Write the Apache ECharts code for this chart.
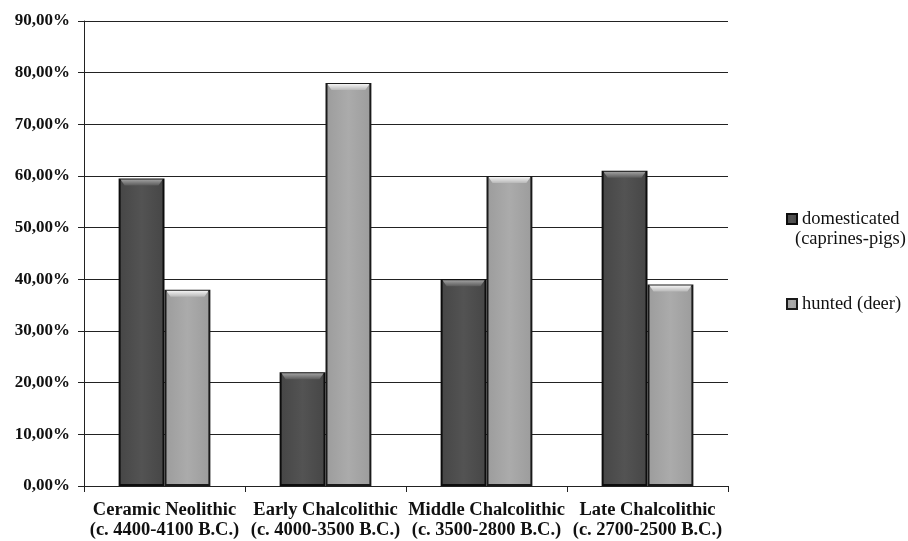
<!DOCTYPE html>
<html>
<head>
<meta charset="utf-8">
<script src="https://cdn.jsdelivr.net/npm/echarts@6/dist/echarts.min.js"></script>
<style>
  html, body { margin: 0; padding: 0; background: #ffffff; }
  #chart { width: 908px; height: 541px; }
</style>
</head>
<body>
<div id="chart"></div>
<script>
// Faunal remains by period: share of domesticated vs hunted animals
const categories = [
  'Ceramic Neolithic\n(c. 4400-4100 B.C.)',
  'Early Chalcolithic\n(c. 4000-3500 B.C.)',
  'Middle Chalcolithic\n(c. 3500-2800 B.C.)',
  'Late Chalcolithic\n(c. 2700-2500 B.C.)'
];
const domesticated = [59.5, 22, 40, 61];
const hunted = [38, 78, 60, 39];
const yTicks = [0, 10, 20, 30, 40, 50, 60, 70, 80, 90];

const seriesNames = ['domesticated (caprines-pigs)', 'hunted (deer)'];
const serif = '"Liberation Serif", "DejaVu Serif", serif';

function barFill(base, mid) {
  return new echarts.graphic.LinearGradient(0, 0, 1, 0, [
    { offset: 0, color: base },
    { offset: 0.5, color: mid },
    { offset: 1, color: base }
  ]);
}
function capFill(top, bottom) {
  return new echarts.graphic.LinearGradient(0, 0, 0, 1, [
    { offset: 0, color: top },
    { offset: 1, color: bottom }
  ]);
}

const darkFill = barFill('#464646', '#535353');
const lightFill = barFill('#9c9c9c', '#ababab');

const chart = echarts.init(document.getElementById('chart'), null, { renderer: 'canvas' });

chart.setOption({
  animation: false,
  backgroundColor: '#ffffff',
  grid: { left: 84, right: 180, top: 21, bottom: 55, containLabel: false },
  legend: {
    orient: 'vertical',
    left: 781,
    top: 204,
    itemWidth: 10,
    itemHeight: 10,
    itemGap: 65,
    icon: 'rect',
    data: seriesNames,
    formatter: function (name) { return name === seriesNames[0] ? 'domesticated' : name; },
    textStyle: { fontFamily: serif, fontSize: 18.5, lineHeight: 20, color: '#111111' },
    selectedMode: false
  },
  graphic: [{
    type: 'text',
    left: 795,
    top: 230,
    style: { text: '(caprines-pigs)', font: '18.5px ' + serif, fill: '#111111' }
  }],
  xAxis: {
    type: 'category',
    data: categories,
    axisLine: { lineStyle: { color: '#222222', width: 1 } },
    axisTick: { show: true, length: 6, lineStyle: { color: '#222222' } },
    axisLabel: {
      fontFamily: serif, fontWeight: 'bold', fontSize: 18.5, color: '#111111',
      lineHeight: 20, margin: 14, interval: 0
    }
  },
  yAxis: {
    type: 'value',
    min: 0,
    max: 90,
    interval: 10,
    axisLine: { show: true, lineStyle: { color: '#222222', width: 1 } },
    axisTick: { show: true, length: 6, lineStyle: { color: '#222222' } },
    splitLine: { lineStyle: { color: '#222222', width: 1 } },
    axisLabel: {
      fontFamily: serif, fontWeight: 'bold', fontSize: 17, color: '#111111', margin: 14,
      customValues: yTicks,
      formatter: function (v) { return v.toFixed(2).replace('.', ',') + '%'; }
    }
  },
  series: [
    {
      name: seriesNames[0],
      type: 'bar',
      data: domesticated,
      barGap: '0%',
      barCategoryGap: '43%',
      itemStyle: { color: darkFill, borderColor: '#0d0d0d', borderWidth: 2 },
      z: 2
    },
    {
      name: seriesNames[1],
      type: 'bar',
      data: hunted,
      barGap: '0%',
      barCategoryGap: '43%',
      itemStyle: { color: lightFill, borderColor: '#1a1a1a', borderWidth: 2 },
      z: 2
    },
    {
      name: 'cap-d',
      type: 'pictorialBar',
      data: domesticated,
      barGap: '0%',
      barCategoryGap: '43%',
      symbol: 'path://M0,0 L10,0 L9,1 L1,1 Z',
      symbolSize: ['92%', 6],
      symbolPosition: 'end',
      symbolOffset: [0, 1],
      symbolClip: false,
      itemStyle: { color: capFill('#a0a0a0', '#5a5a5a') },
      z: 3,
      silent: true,
      legendHoverLink: false
    },
    {
      name: 'cap-h',
      type: 'pictorialBar',
      data: hunted,
      barGap: '0%',
      barCategoryGap: '43%',
      symbol: 'path://M0,0 L10,0 L9,1 L1,1 Z',
      symbolSize: ['92%', 6],
      symbolPosition: 'end',
      symbolOffset: [0, 1],
      symbolClip: false,
      itemStyle: { color: capFill('#f4f4f4', '#b8b8b8') },
      z: 3,
      silent: true,
      legendHoverLink: false
    }
  ]
});
</script>
</body>
</html>
